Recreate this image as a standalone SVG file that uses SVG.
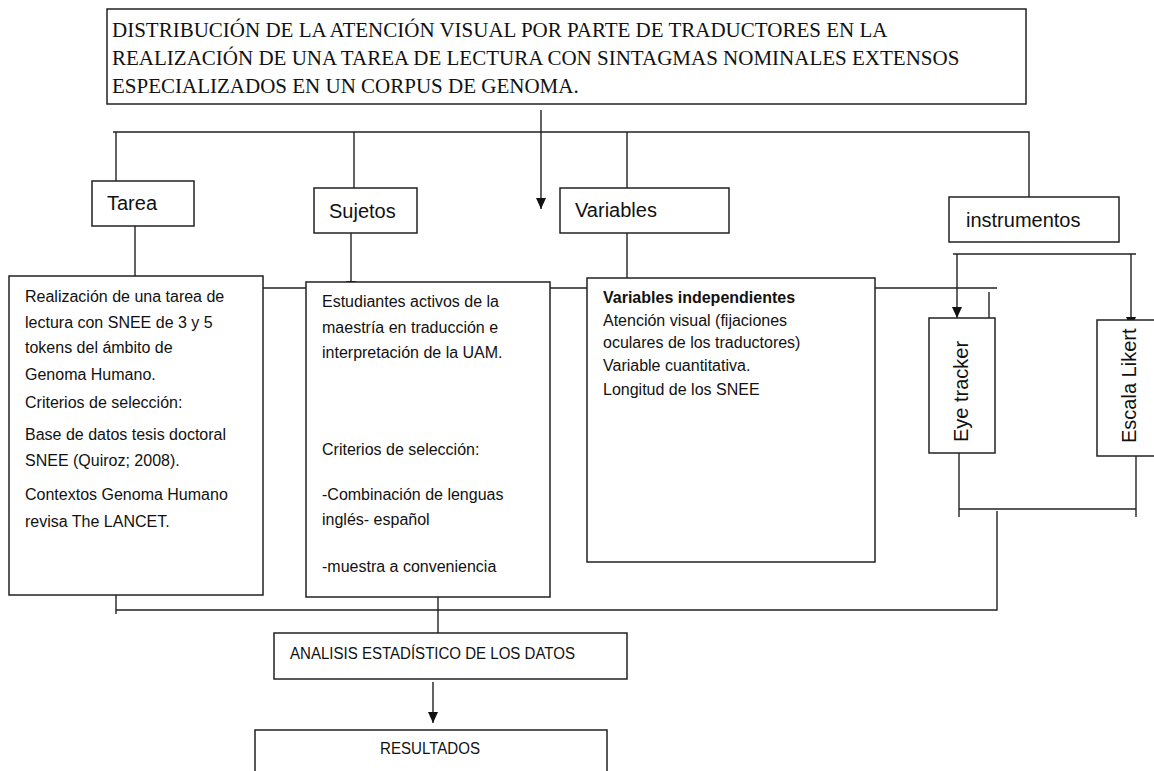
<svg xmlns="http://www.w3.org/2000/svg" width="1154" height="771" viewBox="0 0 1154 771">
<defs>
<marker id="ah" markerUnits="userSpaceOnUse" markerWidth="12" markerHeight="12" viewBox="0 0 12 12" refX="11" refY="6" orient="auto">
<path d="M0,1 L11,6 L0,11 Z" fill="#111"/>
</marker>
<style>
.box{fill:#fff;stroke:#222;stroke-width:1.5}
.ln{fill:none;stroke:#222;stroke-width:1.4}
.arr{fill:none;stroke:#222;stroke-width:1.4;marker-end:url(#ah)}
.ttl{font-family:"Liberation Serif","Times New Roman",serif;font-size:21px;fill:#111}
.lab{font-family:"Liberation Sans",Arial,sans-serif;font-size:20px;fill:#111}
.body{font-family:"Liberation Sans",Arial,sans-serif;font-size:16px;fill:#111}
.small{font-family:"Liberation Sans",Arial,sans-serif;font-size:16px;fill:#111}
</style>
</defs>
<rect width="1154" height="771" fill="#fff"/>

<g id="connectors">
<path class="ln" d="M113,132 H1029 V207"/>
<path class="ln" d="M116,132 V188"/>
<path class="ln" d="M354,132 V195"/>
<path class="ln" d="M627,132 V197"/>
<path class="arr" d="M541,110 V209"/>
<path class="ln" d="M135,226 V276"/>
<path class="arr" d="M351,226 V292"/>
<path class="ln" d="M627,226 V278"/>
<path class="ln" d="M263,288 H306"/>
<path class="ln" d="M550,288 H587"/>
<path class="ln" d="M875,288 H997"/>
<path class="ln" d="M989,292 V318"/>
<path class="ln" d="M953,254 H1136"/>
<path class="arr" d="M957,254 V318"/>
<path class="arr" d="M1131,254 V328"/>
<path class="ln" d="M959,453 V517"/>
<path class="ln" d="M1136,455 V517"/>
<path class="ln" d="M959,509 H1136"/>
<path class="ln" d="M997,511 V610 H116"/>
<path class="ln" d="M116,576 V614"/>
<path class="ln" d="M438,575 V633"/>
<path class="arr" d="M433,682 V723"/>
</g>

<g id="titulo">
<rect class="box" x="107" y="9" width="919" height="95"/>
<text class="ttl" x="112" y="37">DISTRIBUCIÓN DE LA ATENCIÓN VISUAL POR PARTE DE TRADUCTORES EN LA</text>
<text class="ttl" x="112" y="65">REALIZACIÓN DE UNA TAREA DE LECTURA CON SINTAGMAS NOMINALES EXTENSOS</text>
<text class="ttl" x="112" y="93">ESPECIALIZADOS EN UN CORPUS DE GENOMA.</text>
</g>

<g id="tarea">
<rect class="box" x="92" y="181" width="102" height="45"/>
<text class="lab" x="107" y="210">Tarea</text>
</g>
<g id="sujetos">
<rect class="box" x="314" y="188" width="103" height="45"/>
<text class="lab" x="329" y="218">Sujetos</text>
</g>
<g id="variables">
<rect class="box" x="560" y="188" width="169" height="45"/>
<text class="lab" x="575" y="217">Variables</text>
</g>
<g id="instrumentos">
<rect class="box" x="949" y="197" width="170" height="45"/>
<text class="lab" x="966" y="227">instrumentos</text>
</g>

<g id="tarea-detalle">
<rect class="box" x="9" y="276" width="254" height="319"/>
<text class="body" x="25" y="302">Realización de una tarea de</text>
<text class="body" x="25" y="328">lectura con SNEE de 3 y 5</text>
<text class="body" x="25" y="353">tokens del ámbito de</text>
<text class="body" x="25" y="380">Genoma Humano.</text>
<text class="body" x="25" y="408">Criterios de selección:</text>
<text class="body" x="25" y="440">Base de datos tesis doctoral</text>
<text class="body" x="25" y="466">SNEE (Quiroz; 2008).</text>
<text class="body" x="25" y="500">Contextos Genoma Humano</text>
<text class="body" x="25" y="527">revisa The LANCET.</text>
</g>

<g id="sujetos-detalle">
<rect class="box" x="306" y="282" width="244" height="315"/>
<text class="body" x="322" y="307">Estudiantes activos de la</text>
<text class="body" x="322" y="333">maestría en traducción e</text>
<text class="body" x="322" y="358">interpretación de la UAM.</text>
<text class="body" x="322" y="455">Criterios de selección:</text>
<text class="body" x="322" y="500">-Combinación de lenguas</text>
<text class="body" x="322" y="525">inglés- español</text>
<text class="body" x="322" y="572">-muestra a conveniencia</text>
</g>

<g id="variables-detalle">
<rect class="box" x="587" y="278" width="288" height="284"/>
<text class="body" x="603" y="303" font-weight="bold">Variables independientes</text>
<text class="body" x="603" y="326">Atención visual (fijaciones</text>
<text class="body" x="603" y="348">oculares de los traductores)</text>
<text class="body" x="603" y="371">Variable cuantitativa.</text>
<text class="body" x="603" y="395">Longitud de los SNEE</text>
</g>

<g id="eye-tracker">
<rect class="box" x="929" y="318" width="66" height="135"/>
<text class="lab" transform="translate(968,442) rotate(-90)">Eye tracker</text>
</g>
<g id="escala-likert">
<rect class="box" x="1097" y="320" width="70" height="136"/>
<text class="lab" transform="translate(1136,443) rotate(-90)">Escala Likert</text>
</g>

<g id="analisis">
<rect class="box" x="274" y="633" width="353" height="46"/>
<text class="small" x="290" y="659" textLength="285" lengthAdjust="spacingAndGlyphs">ANALISIS ESTADÍSTICO DE LOS DATOS</text>
</g>
<g id="resultados">
<rect class="box" x="255" y="730" width="352" height="60"/>
<text class="small" x="380" y="754" textLength="100" lengthAdjust="spacingAndGlyphs">RESULTADOS</text>
</g>
</svg>
